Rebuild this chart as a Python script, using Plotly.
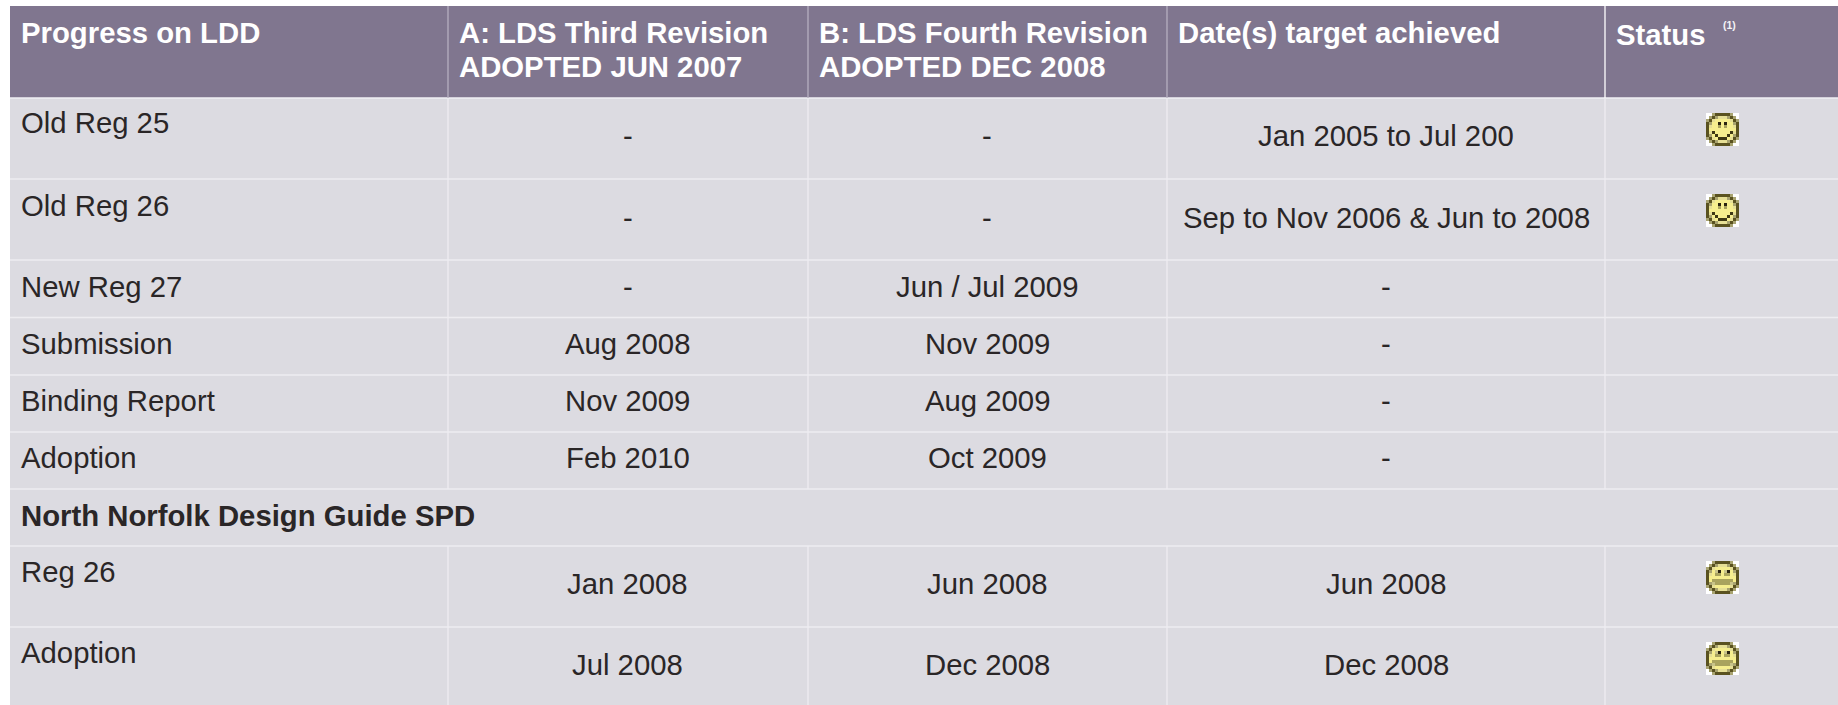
import plotly.graph_objects as go

# ---- content ----
headers = [["Progress on LDD"],
           ["A: LDS Third Revision", "ADOPTED JUN 2007"],
           ["B: LDS Fourth Revision", "ADOPTED DEC 2008"],
           ["Date(s) target achieved"],
           ["Status"]]
stages = ["Old Reg 25", "Old Reg 26", "New Reg 27", "Submission", "Binding Report", "Adoption",
          "Reg 26", "Adoption"]
lds_third = ["-", "-", "-", "Aug 2008", "Nov 2009", "Feb 2010", "Jan 2008", "Jul 2008"]
lds_fourth = ["-", "-", "Jun / Jul 2009", "Nov 2009", "Aug 2009", "Oct 2009", "Jun 2008", "Dec 2008"]
achieved = ["Jan 2005 to Jul 200", "Sep to Nov 2006 & Jun to 2008", "-", "-", "-", "-", "Jun 2008", "Dec 2008"]
status = ["happy", "happy", None, None, None, None, "neutral", "neutral"]
section_title = "North Norfolk Design Guide SPD"
footnote_mark = "(1)"

# ---- layout geometry ----
W, H = 1838, 705
LEFT, TOP, HEAD_B = 10, 6, 98
COL_EDGES = [448, 808, 1167, 1605]
COL_CENTRES = [627.5, 987, 1386]
ROW_EDGES = [179, 260, 317.5, 375, 432, 489, 546, 627]
ROW_TEXT_Y = [135, 217, 286, 343, 400, 457, 583, 664]
LABEL_Y = [122, 205, 286, 343, 400, 457, 571, 652]
ICON_Y = [113, 194, None, None, None, None, 561, 642]
ICON_X = 1706
HEAD_LINE_Y = [32, 66]
HEAD_X = [20, 458, 818, 1177, 1615]
STATUS_Y = 34
SECTION_Y = 515
LABEL_X = 20

HEADER_BG, BODY_BG, GRID = "#80768F", "#DCDBE1", "#EEEDF1"
HEAD_SEP = "#B5AFC0"
INK = "#2A2627"
FONT = "Liberation Sans"
SIZE = 29.3
HSIZE = 29.3

PAL = {"W": "#FFFFFF", "D": "#5A5220", "o": "#A8A370", "Y": "#F6EE8E", "L": "#E6DF96",
       "K": "#2A2410", "m": "#A9A35E", "q": "#C9C48A", "n": "#3E3814"}
SPRITES = {
    "happy": ["WWoDDDDDoWW",
              "WoDoLLLoDoW",
              "oDLYYYYYLDo",
              "DoYYKYKYYoD",
              "DLYYmYmYYLD",
              "DYYYYYYYYYD",
              "DLnYYYYYnLD",
              "DoYnYYYnYoD",
              "oDLYnnnYLDo",
              "WoDoLLLoDoW",
              "WWoDDDDDoWW"],
    "neutral": ["WWoDDDDDoWW",
                "WoDoLLLoDoW",
                "oDLYYYYYLDo",
                "DoYqKYqKYoD",
                "DLYmmYmmYLD",
                "DYYYYYYYYYD",
                "DYmmmmmmmYD",
                "DoqmmmmmqoD",
                "oDLYYYYYLDo",
                "WoDoLLLoDoW",
                "WWoDDDDDoWW"],
}

fig = go.Figure()
shapes, ann = [], []


def rect(x0, y0, x1, y1, c):
    shapes.append(dict(type="rect", xref="x", yref="y", x0=x0, y0=y0, x1=x1, y1=y1,
                       fillcolor=c, line=dict(width=0), layer="below"))


def line(x0, y0, x1, y1, c, w=1.3):
    shapes.append(dict(type="line", xref="x", yref="y", x0=x0, y0=y0, x1=x1, y1=y1,
                       line=dict(color=c, width=w), layer="below"))


def text(x, y, s, anchor="left", color=INK, size=SIZE):
    ann.append(dict(x=x, y=y, xref="x", yref="y", text=s, showarrow=False, xanchor=anchor,
                    yanchor="middle", align=anchor, borderpad=0,
                    font=dict(family=FONT, size=size, color=color)))


rect(LEFT, TOP, W, HEAD_B, HEADER_BG)
rect(LEFT, HEAD_B, W, H, BODY_BG)
line(LEFT, HEAD_B, W, HEAD_B, "#F1F0F4", 1.5)
for y in ROW_EDGES:
    line(LEFT, y, W, y, GRID)
for x in COL_EDGES:
    line(x, TOP, x, HEAD_B, "#FFFFFF" if x == COL_EDGES[-1] else HEAD_SEP)
    line(x, HEAD_B, x, ROW_EDGES[5], GRID)
    line(x, ROW_EDGES[6], x, H, GRID)

for hx, lines in zip(HEAD_X, headers):
    for i, s in enumerate(lines):
        y = STATUS_Y if s == "Status" else HEAD_LINE_Y[i]
        text(hx, y, f"<b>{s}</b>", color="#FFFFFF", size=HSIZE)
text(1722, 25, f"<b>{footnote_mark}</b>", color="#F4F3F6", size=10.5)

for i, s in enumerate(stages):
    text(LABEL_X, LABEL_Y[i], s)
    for cx, col in zip(COL_CENTRES, (lds_third, lds_fourth, achieved)):
        text(cx, ROW_TEXT_Y[i], col[i], anchor="center")
    if status[i]:
        for r, row in enumerate(SPRITES[status[i]]):
            for c, ch in enumerate(row):
                rect(ICON_X + 3 * c, ICON_Y[i] + 3 * r, ICON_X + 3 * c + 3, ICON_Y[i] + 3 * r + 3, PAL[ch])
text(LABEL_X, SECTION_Y, f"<b>{section_title}</b>")

fig.update_layout(
    width=W, height=H, margin=dict(l=0, r=0, t=0, b=0), paper_bgcolor="white", plot_bgcolor="white",
    showlegend=False, hovermode=False, shapes=shapes, annotations=ann,
    xaxis=dict(range=[0, W], visible=False, fixedrange=True),
    yaxis=dict(range=[H, 0], visible=False, fixedrange=True),
)
fig.write_html("out.html", config=dict(displayModeBar=False),
               post_script="document.body.style.margin='0';document.body.style.overflow='hidden';")
